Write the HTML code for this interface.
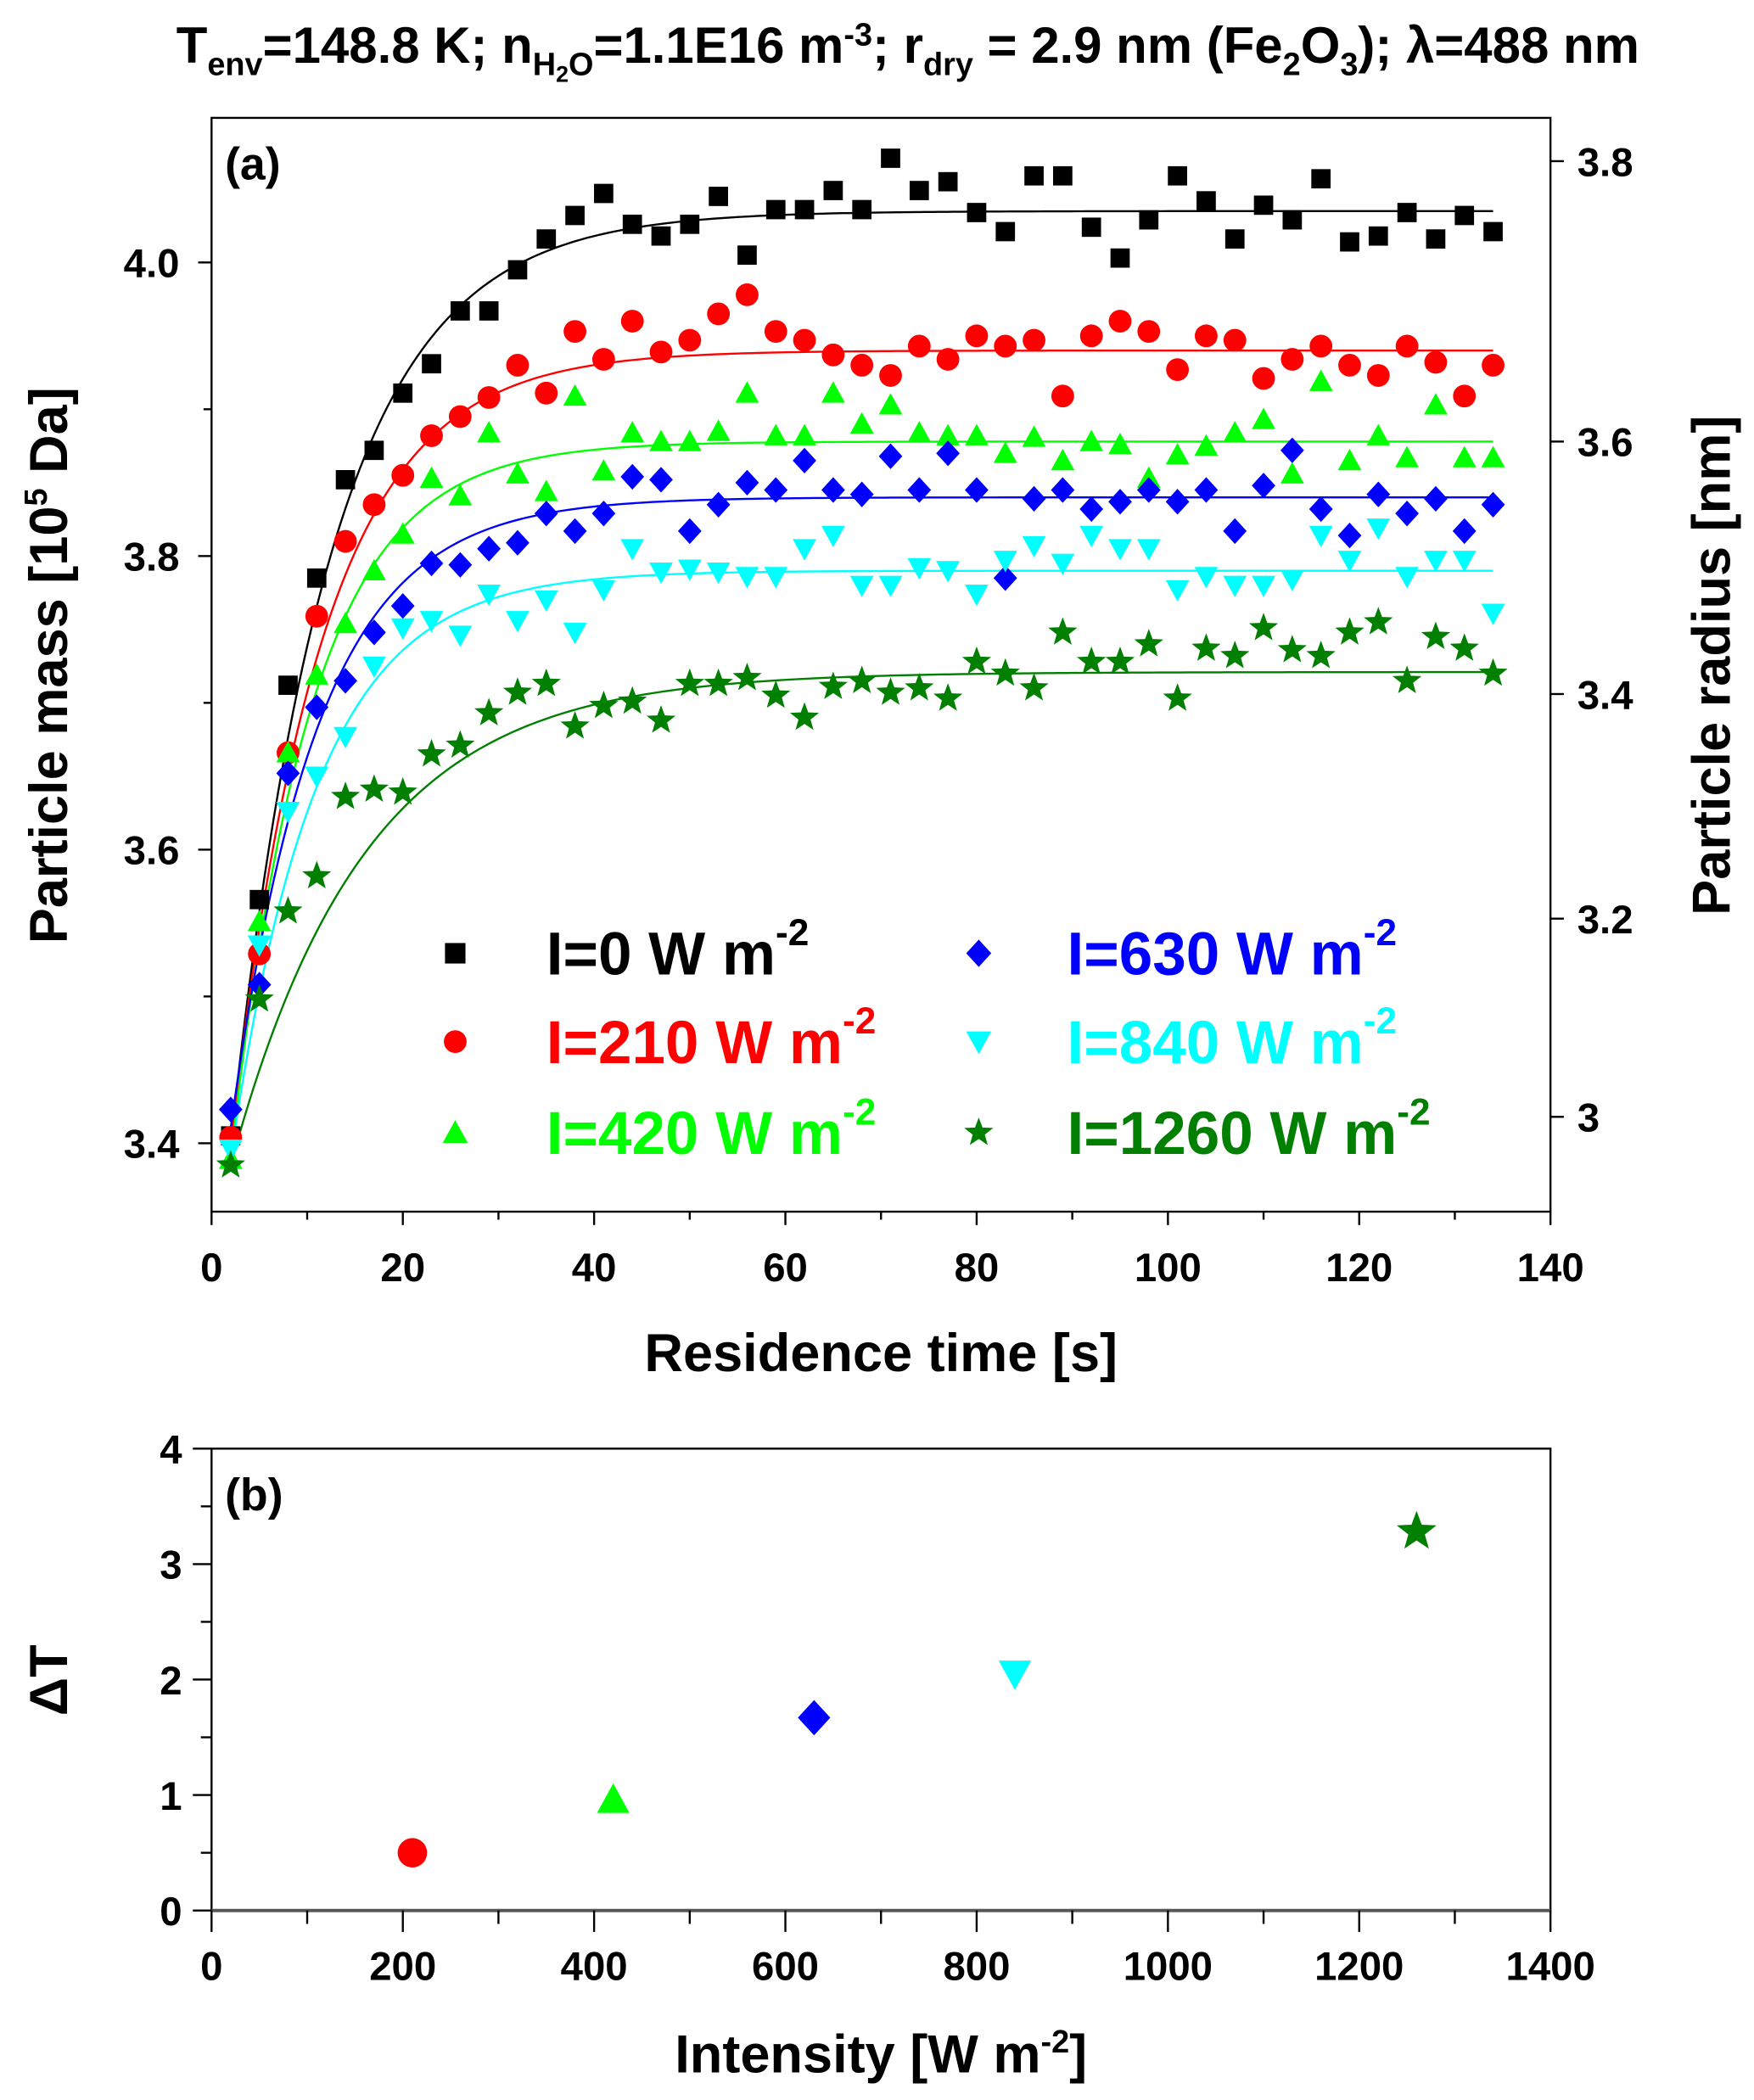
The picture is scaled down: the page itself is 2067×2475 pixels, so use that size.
<!DOCTYPE html>
<html><head><meta charset="utf-8"><style>
html,body{margin:0;padding:0;background:#fff;}
svg{display:block;font-family:"Liberation Sans",Arial,sans-serif;font-weight:bold;}
</style></head><body>
<svg id="fig" width="2067" height="2475" viewBox="0 0 1310 1568.5" xmlns="http://www.w3.org/2000/svg">
<text x="678" y="47" text-anchor="middle" font-size="38">T<tspan font-size="24" dy="9">env</tspan><tspan dy="-9">=148.8 K; n</tspan><tspan font-size="24" dy="9">H</tspan><tspan font-size="17" dy="5">2</tspan><tspan font-size="24" dy="-5">O</tspan><tspan dy="-9">=1.1E16 m</tspan><tspan font-size="24" dy="-13">-3</tspan><tspan dy="13">; r</tspan><tspan font-size="24" dy="9">dry</tspan><tspan dy="-9"> = 2.9 nm (Fe</tspan><tspan font-size="24" dy="9">2</tspan><tspan dy="-9">O</tspan><tspan font-size="24" dy="9">3</tspan><tspan dy="-9">); λ=488 nm</tspan></text>
<g id="topPanel"></g>
<g id="botPanel"></g>
</svg>
<script>
const times=[2,5,8,11,14,17,20,23,26,29,32,35,38,41,44,47,50,53,56,59,62,65,68,71,74,77,80,83,86,89,92,95,98,101,104,107,110,113,116,119,122,125,128,131,134];
const mass0=[3.405,3.566,3.712,3.785,3.852,3.872,3.911,3.931,3.967,3.967,3.995,4.016,4.032,4.047,4.026,4.018,4.026,4.045,4.005,4.036,4.036,4.049,4.036,4.071,4.049,4.055,4.034,4.021,4.059,4.059,4.024,4.003,4.029,4.059,4.042,4.016,4.039,4.029,4.057,4.014,4.018,4.034,4.016,4.032,4.021];
const mass210=[3.404,3.529,3.666,3.759,3.810,3.835,3.855,3.882,3.895,3.908,3.930,3.911,3.953,3.934,3.960,3.939,3.947,3.965,3.978,3.953,3.947,3.937,3.930,3.923,3.943,3.934,3.950,3.943,3.947,3.909,3.950,3.960,3.953,3.927,3.950,3.947,3.921,3.934,3.943,3.930,3.923,3.943,3.932,3.909,3.930];
const mass420=[3.389,3.551,3.666,3.719,3.754,3.790,3.815,3.853,3.841,3.884,3.856,3.844,3.909,3.858,3.884,3.878,3.878,3.885,3.911,3.882,3.882,3.911,3.890,3.903,3.884,3.882,3.882,3.870,3.881,3.865,3.878,3.876,3.853,3.869,3.875,3.884,3.893,3.856,3.919,3.865,3.882,3.867,3.903,3.867,3.867];
const mass630=[3.423,3.508,3.652,3.697,3.715,3.748,3.766,3.795,3.794,3.805,3.809,3.829,3.817,3.829,3.854,3.852,3.817,3.835,3.850,3.845,3.865,3.845,3.842,3.868,3.845,3.870,3.845,3.785,3.839,3.845,3.832,3.837,3.845,3.837,3.845,3.817,3.848,3.872,3.832,3.814,3.842,3.829,3.839,3.817,3.835];
const mass840=[3.396,3.535,3.626,3.650,3.677,3.725,3.751,3.756,3.746,3.774,3.756,3.770,3.748,3.777,3.805,3.789,3.791,3.789,3.786,3.786,3.805,3.814,3.780,3.780,3.792,3.790,3.774,3.797,3.807,3.795,3.814,3.805,3.805,3.777,3.786,3.780,3.780,3.784,3.814,3.797,3.819,3.786,3.797,3.797,3.761];
const mass1260=[3.385,3.498,3.558,3.582,3.636,3.641,3.639,3.665,3.671,3.693,3.707,3.713,3.684,3.698,3.701,3.688,3.713,3.713,3.717,3.705,3.690,3.711,3.715,3.707,3.710,3.703,3.728,3.720,3.710,3.748,3.728,3.728,3.740,3.703,3.737,3.732,3.751,3.736,3.732,3.748,3.755,3.715,3.745,3.737,3.720];
const fitAsym=[4.035,3.940,3.878,3.840,3.790,3.721];
const fitStart=[3.40,3.40,3.39,3.41,3.39,3.385];
const fitTau=[10.5,9.5,8.5,9,9,14];
const seriesLabels=["I=0 W m","I=210 W m","I=420 W m","I=630 W m","I=840 W m","I=1260 W m"];
const intensity=[210,420,630,840,1260];
const deltaT=[0.5,0.96,1.67,2.05,3.28];
const xTicksTop=[0,20,40,60,80,100,120,140];
const yTicksLeft=[3.4,3.6,3.8,4.0];
const yTicksRight=["3.8","3.6","3.4","3.2","3"];
const yTicksRightMass=[4.069,3.878,3.706,3.553,3.418];
const xTicksBot=[0,200,400,600,800,1000,1200,1400];
const yTicksBot=[0,1,2,3,4];

const NS="http://www.w3.org/2000/svg";
function mk(parent,tag,attrs,text){const e=document.createElementNS(NS,tag);for(const k in attrs)e.setAttribute(k,attrs[k]);if(text!==undefined)e.textContent=text;parent.appendChild(e);return e;}
const colors=["#000000","#ff0000","#00ff00","#0000ff","#00ffff","#007f00"];
const shapes=["square","circle","up","diamond","down","star"];
const TICKFS=30, TITLEFS=40;
function marker(g,shape,cx,cy,s,col){
  let e;
  if(shape==="square")e=mk(g,"rect",{x:cx-s*0.45,y:cy-s*0.45,width:s*0.9,height:s*0.9,fill:col});
  else if(shape==="circle")e=mk(g,"circle",{cx:cx,cy:cy,r:s*0.5,fill:col});
  else if(shape==="up")e=mk(g,"polygon",{points:`${cx},${cy-s*0.55} ${cx+s*0.55},${cy+s*0.45} ${cx-s*0.55},${cy+s*0.45}`,fill:col});
  else if(shape==="down")e=mk(g,"polygon",{points:`${cx},${cy+s*0.55} ${cx+s*0.55},${cy-s*0.45} ${cx-s*0.55},${cy-s*0.45}`,fill:col});
  else if(shape==="diamond")e=mk(g,"polygon",{points:`${cx},${cy-s*0.6} ${cx+s*0.55},${cy} ${cx},${cy+s*0.6} ${cx-s*0.55},${cy}`,fill:col});
  else {let p=[];for(let i=0;i<10;i++){const r=i%2?s*0.25:s*0.6;const a=-Math.PI/2+i*Math.PI/5;p.push((cx+r*Math.cos(a)).toFixed(2)+","+(cy+r*Math.sin(a)).toFixed(2));}e=mk(g,"polygon",{points:p.join(" "),fill:col});}
  return e;
}
// ---- top plot
const T={l:158,r:1158,t:88,b:905};
const xT=v=>T.l+(v-0)/140*(T.r-T.l);
const yT=m=>196+(4.0-m)*1096.5;
const topG=document.getElementById("topPanel");
const ax=mk(topG,"rect",{x:T.l,y:T.t,width:T.r-T.l,height:T.b-T.t,fill:"none",stroke:"#000","stroke-width":1.5});


for(let v=0;v<=140;v+=10){mk(topG,"line",{x1:xT(v),x2:xT(v),y1:T.b,y2:T.b+(v%20===0?10:6),stroke:"#000","stroke-width":1.5});}
xTicksTop.forEach(v=>{const t=mk(topG,"text",{x:xT(v),y:T.b+52,"text-anchor":"middle","font-size":TICKFS},String(v));
  
  });
for(let k=0;k<=7;k++){const m=3.4+k*0.1;const y=yT(m);if(y<T.t||y>T.b)continue;mk(topG,"line",{x1:T.l,x2:T.l-(k%2===0?10:6),y1:y,y2:y,stroke:"#000","stroke-width":1.5});}
yTicksLeft.forEach(v=>{const t=mk(topG,"text",{x:T.l-24,y:yT(v)+11,"text-anchor":"end","font-size":TICKFS},v.toFixed(1));
  
  });
yTicksRight.forEach((s,i)=>{const y=yT(yTicksRightMass[i]);mk(topG,"line",{x1:T.r,x2:T.r+10,y1:y,y2:y,stroke:"#000","stroke-width":1.5});const t=mk(topG,"text",{x:T.r+20,y:y+11,"font-size":TICKFS},s);
  
  });
let at=mk(topG,"text",{x:658,y:1024,"text-anchor":"middle","font-size":TITLEFS},"Residence time [s]");


at=mk(topG,"text",{transform:"translate(50,497) rotate(-90)","text-anchor":"middle","font-size":TITLEFS});


at.innerHTML='Particle mass [10<tspan font-size="24" dy="-15">5</tspan><tspan dy="15"> Da]</tspan>';
at=mk(topG,"text",{transform:"translate(1292,497) rotate(-90)","text-anchor":"middle","font-size":TITLEFS},"Particle radius [nm]");


at=mk(topG,"text",{x:168,y:134,"font-size":34},"(a)");


const allSeries=[mass0,mass210,mass420,mass630,mass840,mass1260];
allSeries.forEach((arr,si)=>{
  const g=mk(topG,"g",{});
  
  
  let d="";for(let t=2;t<=134;t+=0.5){const m=fitAsym[si]-(fitAsym[si]-fitStart[si])*Math.exp(-(t-2)/fitTau[si]);d+=(d?"L":"M")+xT(t).toFixed(2)+","+yT(m).toFixed(2);}
  const p=mk(g,"path",{d:d,fill:"none",stroke:colors[si],"stroke-width":1.5});
  
  
});
allSeries.forEach((arr,si)=>{
  const g=mk(topG,"g",{});
  arr.forEach((m,i)=>{const e=marker(g,shapes[si],xT(times[i]),yT(m),shapes[si]==="star"?19:(shapes[si]==="circle"?17:16),colors[si]);
    
    });
});
// legend
const legPos=[[340,712],[340,778],[340,846],[731,712],[731,778],[731,846]];
seriesLabels.forEach((s,i)=>{
  const [lx,ly]=legPos[i];
  const m=marker(topG,shapes[i],lx,ly,shapes[i]==="star"?19:17,colors[i]);
  
  
  const t=mk(topG,"text",{x:lx+(i<3?68:66),y:ly+16,"font-size":45,fill:colors[i]});
  
  
  t.innerHTML=s+'<tspan font-size="28" dy="-22">-2</tspan>';
});
// ---- bottom plot
const B={l:158,r:1158,t:1082,b:1427};
const xB=v=>B.l+v/1400*(B.r-B.l);
const yB=v=>B.b-v/4*(B.b-B.t);
const botG=document.getElementById("botPanel");
const bf=mk(botG,"rect",{x:B.l,y:B.t,width:B.r-B.l,height:B.b-B.t,fill:"none",stroke:"#000","stroke-width":1.5});


mk(botG,"line",{x1:B.l,x2:B.r,y1:B.b,y2:B.b,stroke:"#555","stroke-width":2.5});
for(let v=0;v<=1400;v+=100)mk(botG,"line",{x1:xB(v),x2:xB(v),y1:B.b,y2:B.b+(v%200===0?16:10),stroke:"#000","stroke-width":1.5});
xTicksBot.forEach(v=>{const t=mk(botG,"text",{x:xB(v),y:B.b+52,"text-anchor":"middle","font-size":TICKFS},String(v));
  
  });
for(let k=0;k<=8;k++){const y=yB(k*0.5);mk(botG,"line",{x1:B.l,x2:B.l-(k%2===0?14:8),y1:y,y2:y,stroke:"#000","stroke-width":1.5});}
yTicksBot.forEach(v=>{const t=mk(botG,"text",{x:B.l-22,y:yB(v)+11,"text-anchor":"end","font-size":TICKFS},String(v));
  
  });
at=mk(botG,"text",{x:658,y:1548,"text-anchor":"middle","font-size":TITLEFS});


at.innerHTML='Intensity [W m<tspan font-size="24" dy="-15">-2</tspan><tspan dy="15">]</tspan>';
at=mk(botG,"text",{transform:"translate(50,1255) rotate(-90)","text-anchor":"middle","font-size":TITLEFS},"ΔT");


at=mk(botG,"text",{x:168,y:1128,"font-size":34},"(b)");


intensity.forEach((v,i)=>{const e=marker(botG,shapes[i+1],xB(v),yB(deltaT[i]),shapes[i+1]==="star"?26:22,colors[i+1]);
  
  });
</script>
</body></html>
